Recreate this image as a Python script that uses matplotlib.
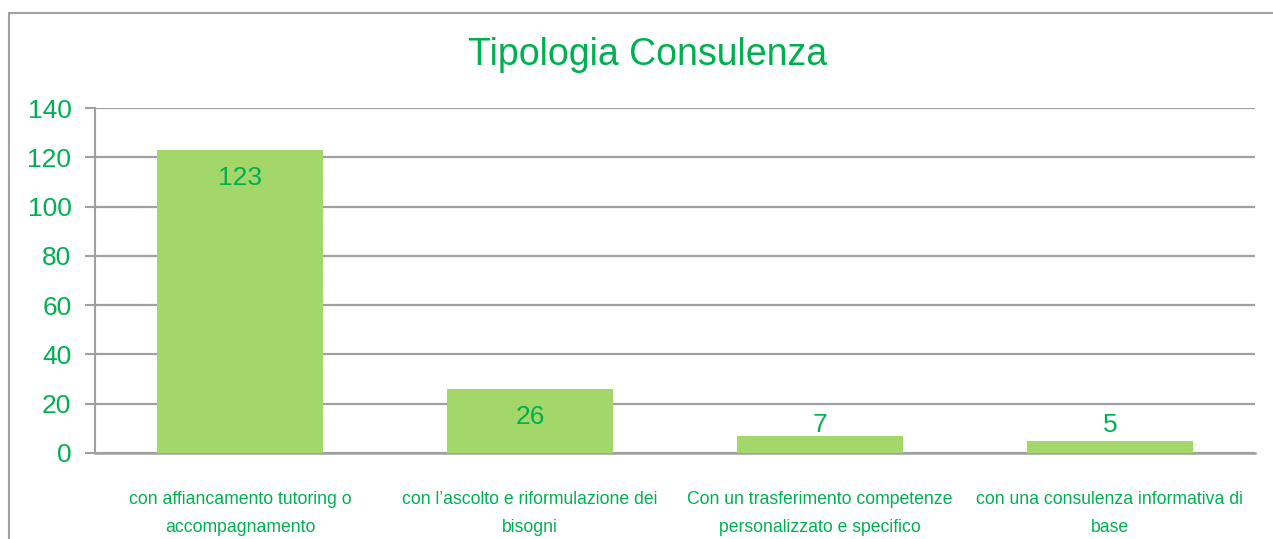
import numpy as np
import matplotlib
matplotlib.use("Agg")
import matplotlib.pyplot as plt
from matplotlib.patches import Rectangle

# data
categories = [
    "con affiancamento tutoring o\naccompagnamento",
    "con l\u2019ascolto e riformulazione dei\nbisogni",
    "Con un trasferimento competenze\npersonalizzato e specifico",
    "con una consulenza informativa di\nbase",
]
values = [123, 26, 7, 5]
y_ticks = [0, 20, 40, 60, 80, 100, 120, 140]

green_text = "#00B050"
bar_color = "#A3D76A"
grid_color = "#A0A0A4"

plt.rcParams["font.family"] = ["Liberation Sans", "DejaVu Sans"]

fig = plt.figure(figsize=(12.73, 5.39), dpi=100)
ax = fig.add_axes([95 / 1273, 1 - 453 / 539, 1160 / 1273, 345 / 539])

# outer chart border
fig.patches.append(Rectangle((9 / 1273, -0.05), 1.2, 1 - 13 / 539 + 0.05,
                             transform=fig.transFigure, fill=False,
                             edgecolor=grid_color, linewidth=1.5))

x = np.arange(len(values))
ax.bar(x, values, width=0.57, color=bar_color, zorder=3)

# value labels inside the top of the bars (small bars get a floor)
for xi, v in zip(x, values):
    ax.text(xi, max(v - 11.5, 11.5), str(v), ha="center", va="center",
            fontsize=19, color=green_text, zorder=4)

ax.set_xlim(-0.5, len(values) - 0.5)
ax.set_ylim(0, 140)
ax.set_yticks(y_ticks)
ax.set_yticklabels([str(t) for t in y_ticks], fontsize=19, color=green_text)
ax.yaxis.grid(True, color=grid_color, linewidth=1.6, zorder=0)
ax.tick_params(axis="y", length=7, width=1.5, color=grid_color, pad=10)

ax.set_xticks(x)
ax.set_xticklabels(categories, fontsize=12.7, color=green_text, linespacing=1.85)
ax.tick_params(axis="x", length=0, pad=27)

for side in ["top", "right"]:
    ax.spines[side].set_visible(False)
ax.spines["left"].set_color(grid_color)
ax.spines["left"].set_linewidth(1.5)
ax.spines["bottom"].set_color(grid_color)
ax.spines["bottom"].set_linewidth(1.8)

fig.text(648 / 1273, 1 - 55 / 539, "Tipologia Consulenza", ha="center",
         va="center", fontsize=27, color=green_text)

fig.savefig("out.png", dpi=100)
